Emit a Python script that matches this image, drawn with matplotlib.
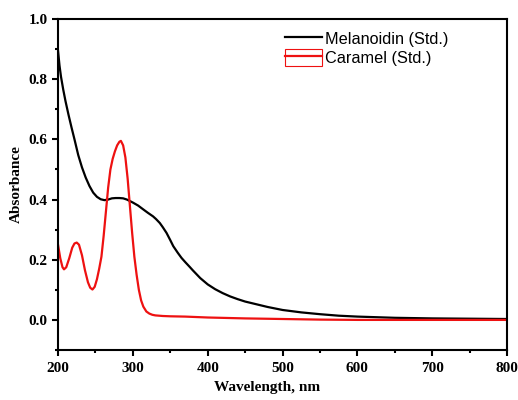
import numpy as np
import matplotlib
matplotlib.use('Agg')
import matplotlib.pyplot as plt
from matplotlib.patches import Rectangle
from matplotlib.lines import Line2D
from matplotlib.ticker import MultipleLocator, FormatStrFormatter

# Melanoidin (Std.)
mel_wl = [200, 202, 204, 207, 210, 214, 218, 222, 227, 232, 237, 242, 247, 252,
          257, 262, 267, 272, 277, 282, 287, 292, 296, 300, 307, 314, 320, 327,
          331, 336, 340, 345, 350, 354, 360, 365, 370, 376, 380, 390, 400, 410,
          420, 430, 440, 450, 460, 480, 500, 525, 550, 575, 600, 650, 700, 750,
          800]
mel_abs = [0.895, 0.845, 0.808, 0.765, 0.727, 0.682, 0.640, 0.600, 0.548, 0.507,
           0.473, 0.445, 0.423, 0.409, 0.401, 0.398, 0.400, 0.404, 0.405, 0.405,
           0.404, 0.400, 0.395, 0.390, 0.380, 0.367, 0.356, 0.344, 0.335, 0.322,
           0.308, 0.289, 0.265, 0.245, 0.223, 0.206, 0.192, 0.176, 0.165, 0.139,
           0.118, 0.102, 0.089, 0.078, 0.069, 0.061, 0.055, 0.043, 0.033, 0.025,
           0.019, 0.014, 0.011, 0.007, 0.005, 0.004, 0.003]

# Caramel (Std.)
car_wl = [200, 203, 206, 208, 211, 215, 219, 222, 225, 228, 232, 236, 240, 243,
          246, 249, 252, 255, 258, 261, 264, 267, 270, 273, 276, 279, 282, 284,
          287, 290, 293, 296, 299, 302, 305, 308, 311, 314, 318, 322, 326, 330,
          340, 350, 370, 400, 450, 500, 550, 600, 700, 800]
car_abs = [0.250, 0.205, 0.175, 0.168, 0.175, 0.205, 0.240, 0.254, 0.257, 0.250,
           0.215, 0.165, 0.125, 0.107, 0.101, 0.110, 0.135, 0.170, 0.210, 0.280,
           0.360, 0.440, 0.500, 0.535, 0.560, 0.580, 0.592, 0.595, 0.580, 0.540,
           0.470, 0.380, 0.290, 0.210, 0.150, 0.100, 0.065, 0.044, 0.028, 0.021,
           0.017, 0.015, 0.013, 0.012, 0.011, 0.008, 0.005, 0.003, 0.001, 0.000,
           0.000, 0.000]

serif = ['Liberation Serif', 'DejaVu Serif']
sans = ['Liberation Sans', 'DejaVu Sans']
red = '#ee1111'

fig = plt.figure(figsize=(5.18, 4.00), dpi=100)
ax = fig.add_axes([0.112, 0.125, 0.867, 0.8275])

ax.plot(mel_wl, mel_abs, color='black', lw=1.6)
ax.plot(car_wl, car_abs, color=red, lw=1.6)

ax.set_xlim(200, 800)
ax.set_ylim(-0.1, 1.0)
ax.xaxis.set_major_locator(MultipleLocator(100))
ax.xaxis.set_minor_locator(MultipleLocator(50))
ax.yaxis.set_major_locator(MultipleLocator(0.2))
ax.yaxis.set_minor_locator(MultipleLocator(0.1))
ax.yaxis.set_major_formatter(FormatStrFormatter('%.1f'))

for s in ax.spines.values():
    s.set_linewidth(1.5)
ax.tick_params(which='major', direction='out', length=4, width=1.5,
               top=False, right=False)
ax.tick_params(axis='x', which='major', pad=5)
ax.tick_params(which='minor', direction='out', length=2.5, width=1.5,
               top=False, right=False)
for lab in ax.get_xticklabels() + ax.get_yticklabels():
    lab.set_family(serif)
    lab.set_fontweight('bold')
    lab.set_fontsize(11)

ax.set_xlabel('Wavelength, nm', family=serif, fontweight='bold', fontsize=11)
ax.set_ylabel('Absorbance', family=serif, fontweight='bold', fontsize=11)
ax.xaxis.set_label_coords(0.465, -0.095)
ax.yaxis.set_label_coords(-0.078, 0.5)

h_mel = Line2D([], [], color='black', lw=1.6)
h_car = (Rectangle((0, 0), 1, 1, fill=False, edgecolor=red, lw=0.8),
         Line2D([], [], color=red, lw=1.6))
ax.legend([h_mel, h_car], ['Melanoidin (Std.)', 'Caramel (Std.)'],
          prop={'family': sans, 'size': 11.7}, frameon=False,
          loc='upper left', bbox_to_anchor=(0.49, 0.985),
          handlelength=2.3, handleheight=1.15, handletextpad=0.2,
          labelspacing=0.15, borderaxespad=0)

fig.savefig('out.png', dpi=100)
